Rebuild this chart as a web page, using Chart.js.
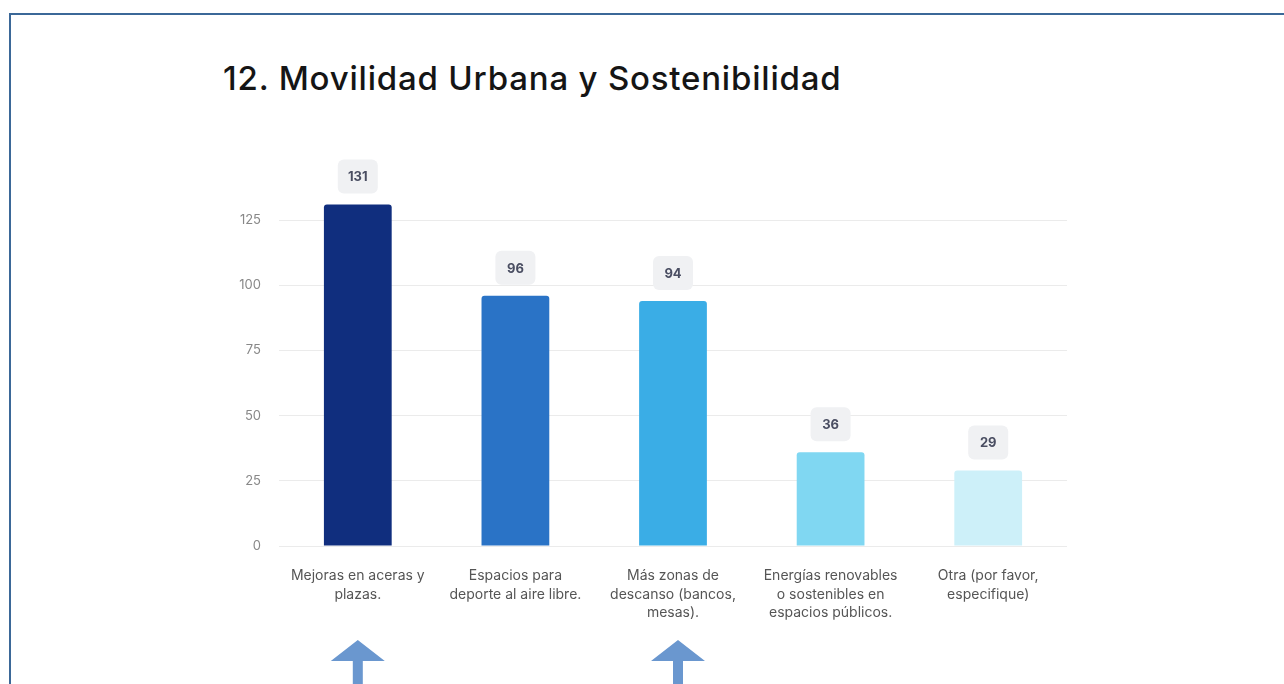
<!DOCTYPE html>
<html>
<head>
<meta charset="utf-8">
<script src="https://cdn.jsdelivr.net/npm/chart.js@4.4.1/dist/chart.umd.min.js"></script>
<style>
  html, body { margin: 0; padding: 0; background: #fff; }
  #wrap { position: relative; width: 1284px; height: 684px; overflow: hidden; }
  #frame { position: absolute; left: 9px; top: 13px; width: 1300px; height: 700px;
    border-top: 2px solid #3b6898; border-left: 2px solid #3b6898; }
  #title { position: absolute; left: 223px; top: 58px; font-family: Inter, "Open Sans", sans-serif;
    font-size: 33px; line-height: 40px; font-weight: 500; color: #151515; letter-spacing: 0.8px; }
  canvas { position: absolute; left: 0; top: 0; }
</style>
</head>
<body>
<div id="wrap">
  <div id="frame"></div>
  <div id="title">12. Movilidad Urbana y Sostenibilidad</div>
  <canvas id="barChart" width="1284" height="684"></canvas>
</div>
<script>
// Data
const categories = [
  ['Mejoras en aceras y', 'plazas.'],
  ['Espacios para', 'deporte al aire libre.'],
  ['Más zonas de', 'descanso (bancos,', 'mesas).'],
  ['Energías renovables', 'o sostenibles en', 'espacios públicos.'],
  ['Otra (por favor,', 'especifique)']
];
const votes = [131, 96, 94, 36, 29];
const barColors = ['#102e7e', '#2a73c6', '#3aade6', '#80d7f2', '#cdf0f9'];
const yTicks = [0, 25, 50, 75, 100, 125];
const arrowAt = [0, 2]; // categories marked by arrows below

// Value badges above each bar
const badgePlugin = {
  id: 'badges',
  afterDatasetsDraw(chart) {
    const ctx = chart.ctx;
    const meta = chart.getDatasetMeta(0);
    ctx.save();
    ctx.font = 'bold 13px Inter, "Open Sans", sans-serif';
    ctx.textAlign = 'center';
    ctx.textBaseline = 'middle';
    meta.data.forEach((bar, i) => {
      const w = 40, h = 34;
      const x = bar.x - w / 2;
      const y = bar.y - 11 - h;
      ctx.fillStyle = '#f0f1f3';
      ctx.beginPath();
      ctx.roundRect(x, y, w, h, 6);
      ctx.fill();
      ctx.fillStyle = '#4a4e62';
      ctx.fillText(String(votes[i]), bar.x, y + h / 2 + 1);
    });
    ctx.restore();
  }
};

// Blue arrows under the highlighted categories
const arrowPlugin = {
  id: 'arrows',
  afterDraw(chart) {
    const ctx = chart.ctx;
    const xs = chart.scales.x;
    ctx.save();
    ctx.fillStyle = '#6a97cf';
    arrowAt.forEach((idx, k) => {
      const cx = xs.getPixelForValue(idx) + (k === 1 ? 5 : 0);
      const top = 640;
      ctx.beginPath();
      ctx.moveTo(cx, top);
      ctx.lineTo(cx + 27, top + 21);
      ctx.lineTo(cx + 5, top + 21);
      ctx.lineTo(cx + 5, 690);
      ctx.lineTo(cx - 5, 690);
      ctx.lineTo(cx - 5, top + 21);
      ctx.lineTo(cx - 27, top + 21);
      ctx.closePath();
      ctx.fill();
    });
    ctx.restore();
  }
};

const ctxBar = document.getElementById('barChart').getContext('2d');
const barChart = new Chart(ctxBar, {
  type: 'bar',
  data: {
    labels: categories,
    datasets: [{
      label: 'Respuestas',
      data: votes,
      backgroundColor: barColors,
      borderRadius: { topLeft: 3, topRight: 3 },
      borderSkipped: 'bottom',
      barPercentage: 0.86,
      categoryPercentage: 0.5
    }]
  },
  options: {
    responsive: false,
    animation: false,
    layout: { padding: { top: 155, right: 217, bottom: 0, left: 0 } },
    plugins: {
      legend: { display: false },
      tooltip: { enabled: false }
    },
    scales: {
      x: {
        grid: { display: false },
        border: { display: false },
        ticks: {
          color: '#555555',
          font: { family: 'Inter, "Open Sans", sans-serif', size: 14, lineHeight: 1.3 },
          maxRotation: 0,
          autoSkip: false,
          padding: 13
        },
        afterFit: s => { s.height = 138; }
      },
      y: {
        min: 0,
        max: 150,
        grid: { color: '#ebebeb', drawTicks: false },
        border: { display: false },
        ticks: {
          color: '#888888',
          font: { family: 'Inter, "Open Sans", sans-serif', size: 13 },
          padding: 18
        },
        afterBuildTicks: axis => { axis.ticks = yTicks.map(v => ({ value: v })); },
        afterFit: s => { s.width = 279; }
      }
    }
  },
  plugins: [badgePlugin, arrowPlugin]
});
</script>
</body>
</html>
